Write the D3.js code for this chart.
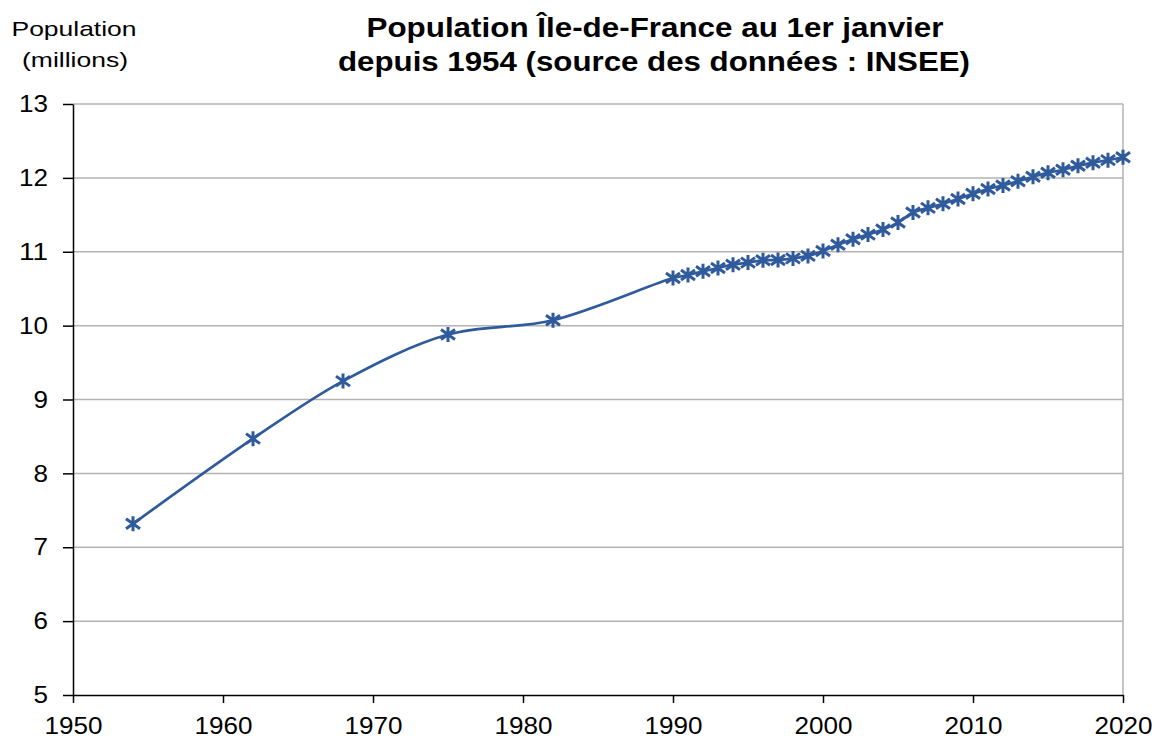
<!DOCTYPE html>
<html>
<head>
<meta charset="utf-8">
<script src="https://cdn.jsdelivr.net/npm/d3@7"></script>
<style>
  body { margin: 0; background: #fff; }
  text { font-family: "Liberation Sans", Arial, sans-serif; fill: #000; }
</style>
</head>
<body>
<div id="chart"></div>
<script>
// years and population (millions)
var years = [1954, 1962, 1968, 1975, 1982, 1990, 1991, 1992, 1993, 1994, 1995, 1996, 1997, 1998, 1999,
  2000, 2001, 2002, 2003, 2004, 2005, 2006, 2007, 2008, 2009, 2010, 2011, 2012, 2013, 2014, 2015,
  2016, 2017, 2018, 2019, 2020];
var population = [7.317, 8.470, 9.249, 9.879, 10.073, 10.644, 10.685, 10.736, 10.780, 10.825, 10.853, 10.885, 10.889, 10.910, 10.944,
  11.010, 11.095, 11.170, 11.232, 11.300, 11.395, 11.532, 11.594, 11.650, 11.713, 11.786, 11.850, 11.898, 11.955, 12.015, 12.070,
  12.110, 12.164, 12.205, 12.240, 12.278];
var xTicks = [1950, 1960, 1970, 1980, 1990, 2000, 2010, 2020];
var yTicks = [5, 6, 7, 8, 9, 10, 11, 12, 13];

var W = 1161, H = 743;
var blue = "#2f5a9c";

var svg = d3.select("#chart").append("svg")
    .attr("width", W).attr("height", H);

var x = d3.scaleLinear().domain([1950, 2020]).range([73, 1123]);
var y = d3.scaleLinear().domain([5, 13]).range([695, 104]);

var data = years.map(function(yr, i) { return {year: yr, value: population[i]}; });

// horizontal grid
svg.append("g")
    .selectAll("line")
    .data(yTicks.slice(1))
    .enter().append("line")
    .attr("x1", x(1950)).attr("x2", x(2020))
    .attr("y1", function(d) { return y(d); })
    .attr("y2", function(d) { return y(d); })
    .attr("stroke", "#b3b3b3").attr("stroke-width", 1.5);

// right border
svg.append("line")
    .attr("x1", x(2020)).attr("x2", x(2020))
    .attr("y1", y(13)).attr("y2", y(5))
    .attr("stroke", "#b3b3b3").attr("stroke-width", 1.5);

// axes
var xAxis = svg.append("g")
    .attr("transform", "translate(0," + y(5) + ")")
    .call(d3.axisBottom(x).tickValues(xTicks).tickFormat(d3.format("d")).tickSize(8).tickSizeOuter(0).tickPadding(14));
var yAxis = svg.append("g")
    .attr("transform", "translate(" + x(1950) + ",0)")
    .call(d3.axisLeft(y).tickValues(yTicks).tickSize(10).tickSizeOuter(0).tickPadding(15));

[xAxis, yAxis].forEach(function(ax) {
  ax.selectAll("path, line").attr("stroke", "#000").attr("stroke-width", 1.5);
  ax.selectAll("text")
    .style("font-family", "'Liberation Sans', Arial, sans-serif")
    .style("font-size", "24px").attr("fill", "#000")
    .attr("textLength", function() { return 14.5 * this.textContent.length; })
    .attr("lengthAdjust", "spacingAndGlyphs");
});

// line
var line = d3.line()
    .x(function(d) { return x(d.year); })
    .y(function(d) { return y(d.value); })
    .curve(d3.curveCatmullRom.alpha(0.5));

svg.append("path")
    .datum(data)
    .attr("d", line)
    .attr("fill", "none")
    .attr("stroke", blue)
    .attr("stroke-width", 2.7);

// star markers
var marks = svg.append("g").selectAll("g")
    .data(data)
    .enter().append("g")
    .attr("transform", function(d) { return "translate(" + x(d.year) + "," + y(d.value) + ")"; });
marks.append("path")
    .attr("d", "M-7,-5L7,5M-7,5L7,-5M0,-7.5L0,7.5")
    .attr("stroke", blue)
    .attr("stroke-width", 3)
    .attr("fill", "none");

// title
var title = svg.append("text")
    .attr("text-anchor", "middle")
    .style("font-weight", "bold")
    .style("font-size", "28px");
title.append("tspan").attr("x", 655).attr("y", 37)
    .attr("textLength", 577).attr("lengthAdjust", "spacingAndGlyphs")
    .text("Population Île-de-France au 1er janvier");
title.append("tspan").attr("x", 654).attr("y", 71)
    .attr("textLength", 632).attr("lengthAdjust", "spacingAndGlyphs")
    .text("depuis 1954 (source des données : INSEE)");

// y-axis label
var ylab = svg.append("text")
    .attr("text-anchor", "middle")
    .style("font-size", "21px");
ylab.append("tspan").attr("x", 74).attr("y", 36)
    .attr("textLength", 125).attr("lengthAdjust", "spacingAndGlyphs")
    .text("Population");
ylab.append("tspan").attr("x", 75).attr("y", 67)
    .attr("textLength", 106).attr("lengthAdjust", "spacingAndGlyphs")
    .text("(millions)");
</script>
</body>
</html>
